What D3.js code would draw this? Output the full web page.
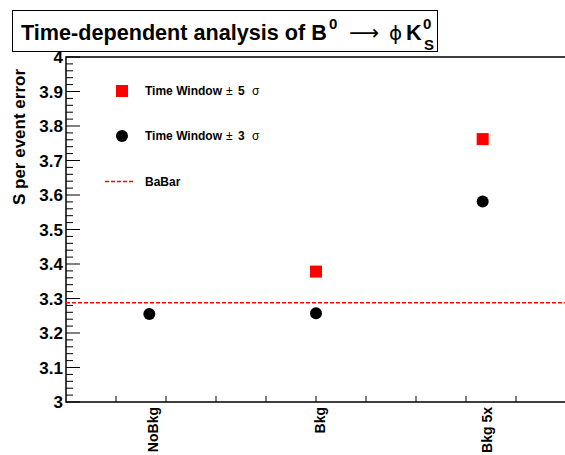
<!DOCTYPE html>
<html><head><meta charset="utf-8">
<script src="https://cdn.jsdelivr.net/npm/d3@7"></script>
<style>
body{margin:0;background:#fff;}
svg{display:block;font-family:"Liberation Sans",Arial,Helvetica,sans-serif;}
</style></head>
<body>
<svg id="c" width="565" height="455"></svg>
<script>
const categories = ["NoBkg", "Bkg", "Bkg 5x"];
const window5Sigma = [null, 3.378, 3.762];
const window3Sigma = [3.255, 3.257, 3.581];
const babarValue = 3.288;
const yTicks = [3, 3.1, 3.2, 3.3, 3.4, 3.5, 3.6, 3.7, 3.8, 3.9, 4];

const svg = d3.select("#c");
const L = 66, R = 566, T = 57, B = 402;

const x = d3.scaleBand().domain(categories).range([L, R]).padding(0);
const y = d3.scaleLinear().domain([3, 4]).range([B, T]);
const xDiv = d3.scaleLinear().domain([0, 10]).range([L, R]);

// frame
svg.append("rect").attr("x", L).attr("y", T).attr("width", R - L).attr("height", B - T)
  .attr("fill", "none").attr("stroke", "#000").attr("stroke-width", 1.5);

// y ticks
const g = svg.append("g");
d3.range(0, 51).forEach(i => {
  const v = 3 + i * 0.02;
  const major = i % 5 === 0;
  g.append("line").attr("x1", L).attr("x2", L + (major ? 14 : 7))
    .attr("y1", y(v)).attr("y2", y(v)).attr("stroke", "#000").attr("stroke-width", 1);
});
// y tick labels
svg.append("g").selectAll("text").data(yTicks).join("text")
  .attr("x", L - 3).attr("y", d => y(d)).attr("dy", "0.36em")
  .attr("text-anchor", "end").attr("font-size", 17).attr("font-weight", "bold")
  .text(d => d3.format("")(+d.toFixed(1)));

// x ticks
d3.range(1, 11).forEach(i => {
  svg.append("line").attr("x1", xDiv(i)).attr("x2", xDiv(i)).attr("y1", B).attr("y2", B - 6)
    .attr("stroke", "#000").attr("stroke-width", 1);
});
// x labels (vertical)
svg.append("g").selectAll("text").data(categories).join("text")
  .attr("transform", d => `translate(${x(d) + x.bandwidth() / 2 + 9},${B + 5}) rotate(-90)`)
  .attr("text-anchor", "end").attr("font-size", 14).attr("font-weight", "bold")
  .text(d => d);

// y axis title
svg.append("text").attr("transform", `translate(25,69) rotate(-90)`)
  .attr("text-anchor", "end").attr("font-size", 17).attr("font-weight", "bold")
  .text("S per event error");

// BaBar line
svg.append("line").attr("x1", L).attr("x2", R).attr("y1", y(babarValue)).attr("y2", y(babarValue))
  .attr("stroke", "#ff0000").attr("stroke-width", 1.5).attr("stroke-dasharray", "4,2");

// series
const s5 = categories.map((c, i) => ({c, v: window5Sigma[i]})).filter(d => d.v != null);
svg.append("g").selectAll("rect").data(s5).join("rect")
  .attr("x", d => x(d.c) + x.bandwidth() / 2 - 6).attr("y", d => y(d.v) - 6)
  .attr("width", 12).attr("height", 12).attr("fill", "#ff0000");
const s3 = categories.map((c, i) => ({c, v: window3Sigma[i]})).filter(d => d.v != null);
svg.append("g").selectAll("circle").data(s3).join("circle")
  .attr("cx", d => x(d.c) + x.bandwidth() / 2).attr("cy", d => y(d.v))
  .attr("r", 6).attr("fill", "#000");

// legend
svg.append("rect").attr("x", 116).attr("y", 85).attr("width", 12).attr("height", 12).attr("fill", "#ff0000");
svg.append("circle").attr("cx", 122).attr("cy", 136).attr("r", 6).attr("fill", "#000");
svg.append("line").attr("x1", 105).attr("x2", 135).attr("y1", 181.5).attr("y2", 181.5)
  .attr("stroke", "#ff0000").attr("stroke-width", 1.5).attr("stroke-dasharray", "4,2");
function legText(yy, parts) {
  const t = svg.append("text").attr("x", 145).attr("y", yy).attr("dy", "0.36em").attr("font-size", 12);
  parts.forEach(p => {
    const s = t.append("tspan").attr("font-weight", p[1] ? "bold" : "normal").text(p[0]);
    if (p[2] != null) s.attr("x", p[2]);
  });
}
legText(91, [["Time Window", true], ["\u00b1", false, 226], ["5", true, 238], ["\u03c3", false, 252]]);
legText(136, [["Time Window", true], ["\u00b1", false, 226], ["3", true, 238], ["\u03c3", false, 252]]);
legText(182, [["BaBar", true]]);

// title box
svg.append("rect").attr("x", 12.5).attr("y", 10.5).attr("width", 425).attr("height", 41)
  .attr("fill", "#fff").attr("stroke", "#000").attr("stroke-width", 1);
const tt = svg.append("text").attr("x", 21).attr("y", 40).attr("font-size", 22).attr("font-weight", "bold");
const mainT = tt.append("tspan").text("Time-dependent analysis of B");
const len = mainT.node().getComputedTextLength();
tt.attr("font-size", 22 * 306 / len);
tt.append("tspan").attr("x", 329).attr("y", 29).attr("font-size", 15).text("0");
tt.append("tspan").attr("x", 349).attr("y", 40).attr("font-weight", "normal")
  .attr("font-family", "DejaVu Sans").attr("font-size", 21).text("\u27f6");
tt.append("tspan").attr("x", 389).attr("y", 40).attr("font-weight", "normal")
  .attr("font-family", "DejaVu Sans").attr("font-size", 20).text("\u03d5");
tt.append("tspan").attr("x", 406).attr("y", 40).text("K");
tt.append("tspan").attr("x", 423).attr("y", 29).attr("font-size", 15).text("0");
tt.append("tspan").attr("x", 424).attr("y", 50).attr("font-size", 15).text("S");
</script>
</body></html>
